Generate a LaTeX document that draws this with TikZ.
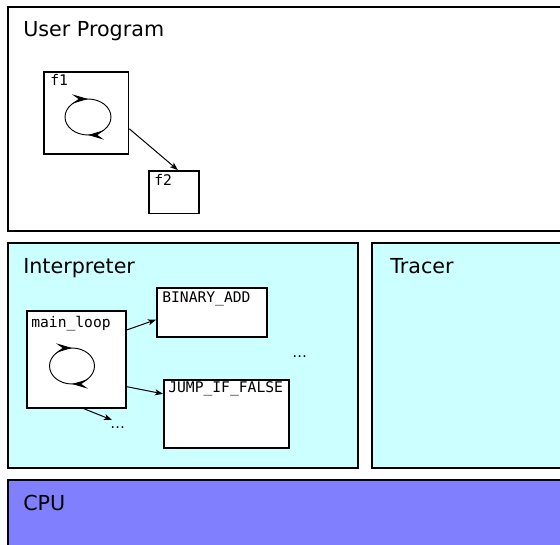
\documentclass[tikz,border=0pt]{standalone}
\usepackage{fontspec}
\setmainfont{DejaVu Sans}
\setmonofont{DejaVu Sans Mono}
\usetikzlibrary{arrows.meta,decorations.markings}
\definecolor{interp}{HTML}{CCFFFF}
\definecolor{cpu}{HTML}{8080FF}

\begin{document}
\begin{tikzpicture}[
		x=0.75pt, y=-0.75pt,
		layer/.style={draw, line width=1.7pt},
		title/.style={anchor=base west, inner sep=0pt, font=\fontsize{15.5}{18}\selectfont},
		fbox/.style={draw, fill=white, line width=1.25pt, anchor=north west, inner sep=0pt},
		code/.style={anchor=base west, inner sep=0pt, font=\ttfamily\fontsize{11}{13}\selectfont},
		conn/.style={-{Stealth[length=6pt, width=4.5pt, inset=1.5pt]}, line width=0.75pt},
		spin/.style={line width=0.7pt, postaction={decorate}, decoration={markings,
			mark=at position 0.25 with {\arrow{Stealth[length=12pt, width=7pt, inset=5pt]}},
			mark=at position 0.75 with {\arrow{Stealth[length=12pt, width=7pt, inset=5pt]}}}},
	]
	\useasboundingbox (0,0) rectangle (560,545);
	\clip (0,0) rectangle (560,545);

	% layers
	\draw[layer] (8,7) rectangle (580,231);
	\draw[layer, fill=interp] (8,243) rectangle (358,468);
	\draw[layer, fill=interp] (372,243) rectangle (580,468);
	\draw[layer, fill=cpu] (8,480) rectangle (580,560);

	\node[title] (user) at (23,37) {User Program};
	\node[title] (interpreter) at (23,273) {Interpreter};
	\node[title] (tracer) at (390,273) {Tracer};
	\node[title] (cpuname) at (23,510) {CPU};

	% functions
	\node[fbox, minimum width=63.5pt, minimum height=61.5pt] (f1) at (43,71) {};
	\node[fbox, minimum width=37.5pt, minimum height=32pt] (f2) at (148,170) {};
	\node[code] (f1-lbl) at (50,86) {f1};
	\node[code] (f2-lbl) at (154,186) {f2};
	\draw[spin] (65,117) arc[start angle=180, end angle=540, x radius=23, y radius=18];
	\draw[conn] ([yshift=-12pt]f1.east) -- ([xshift=3pt]f2.north);

	% bytecodes
	\node[fbox, minimum width=74.25pt, minimum height=72.75pt] (mainloop) at (26,310) {};
	\node[fbox, minimum width=82.5pt, minimum height=36.75pt] (binadd) at (156,287) {};
	\node[fbox, minimum width=93.75pt, minimum height=51pt] (jump) at (163,379) {};
	\node[code] (mainloop-lbl) at (31,327) {main\_loop};
	\node[code] (binadd-lbl) at (162,302) {BINARY\_ADD};
	\node[code] (jump-lbl) at (168,392) {JUMP\_IF\_FALSE};
	\node[code, font=\fontsize{11}{13}\selectfont] (more1) at (292,357) {…};
	\node[code, font=\fontsize{11}{13}\selectfont] (more2) at (110,428) {…};
	\coordinate (more2-in) at (112,420);
	\draw[spin] (49.5,366) arc[start angle=180, end angle=540, x radius=22.5, y radius=18];

	\draw[conn] ([yshift=22pt]mainloop.east) -- ([yshift=-5.5pt]binadd.west);
	\draw[conn] ([yshift=-20.5pt]mainloop.east) -- ([yshift=15pt]jump.west);
	\draw[conn] ([xshift=5.6pt]mainloop.south) -- (more2-in);
\end{tikzpicture}
\end{document}
